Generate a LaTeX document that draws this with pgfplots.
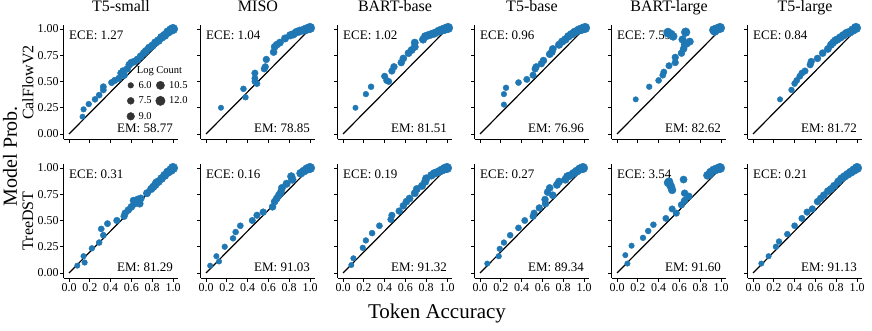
\documentclass[border=0pt]{standalone}
\usepackage{pgfplots}
\pgfplotsset{compat=1.18}
\usepackage{pgfplotstable}
\usepackage{fontspec}
\setmainfont{Liberation Serif}
\definecolor{c0}{HTML}{1F77B4}

\pgfplotstableread{
x y lc
0.13 0.165 5.8
0.14 0.235 6.0
0.19 0.285 6.2
0.25 0.33 6.4
0.29 0.37 6.6
0.33 0.42 6.8
0.33 0.45 6.8
0.41 0.49 7.0
0.44 0.51 7.2
0.48 0.53 7.4
0.50 0.58 7.6
0.52 0.60 7.7
0.53 0.56 7.7
0.56 0.62 7.8
0.58 0.66 8.0
0.60 0.68 8.0
0.63 0.69 8.2
0.66 0.71 8.3
0.69 0.74 8.4
0.72 0.77 8.6
0.74 0.79 8.7
0.77 0.82 8.9
0.80 0.84 9.0
0.83 0.87 9.2
0.86 0.89 9.5
0.89 0.92 9.8
0.92 0.94 10.2
0.95 0.97 10.8
0.98 0.99 11.4
1.00 1.00 12.0
}\tAa
\pgfplotstableread{
x y lc
0.144 0.25 5.8
0.36 0.43 6.4
0.38 0.35 6.2
0.47 0.53 6.8
0.47 0.58 7.0
0.47 0.50 6.7
0.49 0.48 6.7
0.57 0.64 7.2
0.58 0.71 7.4
0.56 0.62 7.1
0.65 0.78 7.8
0.66 0.83 8.0
0.68 0.85 8.1
0.71 0.87 8.2
0.76 0.91 8.5
0.81 0.94 8.8
0.84 0.95 9.0
0.87 0.97 9.3
0.90 0.98 9.7
0.94 0.99 10.2
0.97 1.00 11.0
1.00 1.01 12.0
}\tAb
\pgfplotstableread{
x y lc
0.12 0.25 5.8
0.22 0.38 6.1
0.27 0.45 6.4
0.40 0.55 7.0
0.42 0.51 7.0
0.44 0.50 6.8
0.47 0.60 7.3
0.49 0.64 7.5
0.56 0.68 7.7
0.58 0.72 7.9
0.63 0.77 8.1
0.66 0.80 8.2
0.69 0.83 8.3
0.69 0.87 8.3
0.77 0.90 8.6
0.79 0.93 8.8
0.82 0.94 9.0
0.85 0.95 9.2
0.88 0.96 9.5
0.92 0.98 9.9
0.95 0.99 10.5
0.98 1.00 11.2
1.01 1.01 12.0
}\tAc
\pgfplotstableread{
x y lc
0.23 0.28 5.9
0.23 0.38 6.0
0.25 0.44 6.2
0.37 0.49 6.5
0.45 0.52 6.9
0.51 0.56 7.1
0.53 0.62 7.3
0.54 0.64 7.3
0.59 0.67 7.5
0.61 0.70 7.7
0.67 0.76 7.9
0.69 0.78 8.1
0.70 0.81 8.1
0.76 0.85 8.5
0.79 0.88 8.7
0.82 0.90 8.9
0.85 0.93 9.2
0.88 0.95 9.4
0.91 0.97 9.8
0.95 0.99 10.4
0.98 1.00 11.2
1.01 1.01 12.0
}\tAd
\pgfplotstableread{
x y lc
0.18 0.33 5.8
0.31 0.45 6.1
0.40 0.51 6.5
0.44 0.56 6.7
0.45 0.59 6.8
0.50 0.65 7.0
0.56 0.68 7.2
0.56 0.73 7.3
0.62 0.77 7.6
0.64 0.81 7.8
0.65 0.85 8.0
0.67 0.86 8.1
0.70 0.88 8.2
0.63 0.90 8.6
0.49 0.96 9.8
0.52 0.95 9.8
0.54 0.93 9.4
0.49 0.97 9.6
0.66 0.97 10.4
0.93 0.99 10.5
0.94 0.98 10.5
0.96 1.00 11.0
0.99 1.01 12.0
}\tAe
\pgfplotstableread{
x y lc
0.26 0.33 5.8
0.37 0.42 6.2
0.40 0.48 6.4
0.42 0.51 6.6
0.45 0.55 6.8
0.47 0.58 6.9
0.50 0.60 7.0
0.55 0.66 7.3
0.56 0.69 7.4
0.62 0.72 7.6
0.67 0.77 7.8
0.72 0.81 8.1
0.75 0.85 8.3
0.77 0.87 8.4
0.79 0.89 8.6
0.81 0.90 8.8
0.84 0.92 9.0
0.87 0.94 9.3
0.90 0.96 9.7
0.93 0.97 10.1
0.96 0.99 10.8
0.99 1.01 12.0
}\tAf
\pgfplotstableread{
x y lc
0.08 0.07 5.8
0.14 0.16 6.0
0.15 0.10 6.0
0.22 0.235 6.2
0.29 0.29 6.4
0.31 0.42 6.6
0.33 0.36 6.6
0.37 0.47 6.8
0.46 0.50 7.2
0.53 0.54 7.4
0.54 0.57 7.5
0.57 0.60 7.6
0.60 0.63 7.8
0.62 0.69 7.8
0.63 0.66 7.9
0.66 0.70 8.0
0.68 0.66 8.0
0.69 0.71 8.2
0.75 0.76 8.4
0.79 0.80 8.6
0.81 0.82 8.8
0.83 0.84 9.0
0.84 0.86 9.1
0.86 0.87 9.2
0.89 0.90 9.5
0.92 0.93 9.9
0.95 0.96 10.5
0.98 0.98 11.2
1.00 1.00 12.0
}\tBa
\pgfplotstableread{
x y lc
0.04 0.07 5.8
0.10 0.16 5.9
0.125 0.11 5.9
0.18 0.25 6.1
0.26 0.33 6.3
0.285 0.39 6.4
0.33 0.45 6.6
0.445 0.50 7.0
0.49 0.55 7.2
0.55 0.58 7.4
0.64 0.63 7.7
0.66 0.68 7.8
0.68 0.71 8.0
0.70 0.74 8.1
0.72 0.77 8.2
0.73 0.81 8.3
0.775 0.85 8.5
0.82 0.92 8.8
0.83 0.89 8.8
0.91 0.95 9.5
0.94 0.97 10.0
0.97 0.99 10.8
1.00 1.00 12.0
}\tBb
\pgfplotstableread{
x y lc
0.08 0.076 5.8
0.10 0.14 5.9
0.19 0.24 6.1
0.22 0.31 6.2
0.28 0.38 6.4
0.35 0.45 6.6
0.46 0.51 7.0
0.47 0.55 7.1
0.54 0.59 7.4
0.58 0.64 7.6
0.61 0.68 7.8
0.64 0.71 8.0
0.69 0.76 8.2
0.71 0.80 8.3
0.76 0.83 8.5
0.79 0.87 8.7
0.80 0.90 8.8
0.85 0.93 9.1
0.88 0.95 9.4
0.92 0.965 9.8
0.95 0.98 10.3
0.98 0.995 11.0
1.00 1.00 12.0
}\tBc
\pgfplotstableread{
x y lc
0.07 0.09 5.8
0.18 0.16 6.0
0.19 0.23 6.1
0.23 0.29 6.2
0.29 0.36 6.4
0.37 0.43 6.6
0.43 0.50 6.8
0.51 0.54 7.1
0.52 0.57 7.2
0.57 0.62 7.4
0.625 0.70 7.6
0.63 0.66 7.6
0.65 0.77 7.8
0.67 0.81 7.9
0.70 0.74 8.0
0.74 0.84 8.3
0.76 0.87 8.4
0.82 0.89 8.7
0.84 0.92 8.9
0.87 0.93 9.2
0.90 0.95 9.5
0.93 0.97 10.0
0.96 0.99 10.6
0.99 1.00 12.0
}\tBd
\pgfplotstableread{
x y lc
0.08 0.17 5.8
0.10 0.09 5.8
0.14 0.26 5.9
0.25 0.335 6.2
0.30 0.40 6.3
0.35 0.46 6.4
0.47 0.52 6.8
0.53 0.61 7.0
0.57 0.57 7.1
0.62 0.65 7.4
0.65 0.69 7.6
0.65 0.76 7.6
0.69 0.73 7.8
0.64 0.89 8.0
0.49 0.86 9.0
0.50 0.87 9.2
0.51 0.84 9.2
0.52 0.82 9.0
0.53 0.79 8.8
0.87 0.93 9.4
0.89 0.94 9.6
0.90 0.96 9.8
0.93 0.98 10.2
0.96 0.99 10.8
0.99 1.00 12.0
}\tBe
\pgfplotstableread{
x y lc
0.08 0.09 5.8
0.15 0.16 5.9
0.22 0.25 6.1
0.25 0.30 6.2
0.33 0.37 6.4
0.40 0.45 6.6
0.47 0.52 6.9
0.52 0.58 7.1
0.57 0.61 7.3
0.62 0.68 7.5
0.65 0.71 7.7
0.68 0.74 7.9
0.72 0.78 8.1
0.75 0.80 8.3
0.78 0.83 8.5
0.82 0.87 8.8
0.85 0.90 9.0
0.88 0.92 9.3
0.91 0.94 9.7
0.94 0.96 10.2
0.97 0.98 10.8
1.00 1.00 12.0
}\tBf

\pgfplotsset{
  panel/.style={
    scale only axis, width=114.4pt, height=114.45pt,
    xmin=-0.05, xmax=1.05, ymin=-0.05, ymax=1.04,
    axis x line*=bottom, axis y line*=left,
    axis line style={line width=0.8pt, black},
    xtick={0,0.2,0.4,0.6,0.8,1}, ytick={0,0.25,0.5,0.75,1},
    tick align=outside, major tick length=3.5pt,
    every tick/.style={black, line width=0.8pt},
    xticklabels={}, yticklabels={},
    ticklabel style={font=\fontsize{12}{13}\selectfont},
    yticklabel style={inner sep=1.5pt},
    xticklabel style={inner sep=2pt},
    clip=false,
    title style={font=\fontsize{16}{17}\selectfont, at={(0.5,1)}, anchor=base, yshift=7.5pt},
  },
  pts/.style={scatter, only marks, mark=*, forget plot,
    scatter/use mapped color={draw=c0, fill=c0},
    visualization depends on={sqrt(8+(\thisrow{lc}-6)*2.6)\as\ms},
    scatter/@pre marker code/.append style={/tikz/mark size=\ms}},
}

\newcommand{\panel}[8]{%
\begin{axis}[panel, at={(#1pt,#2pt)}, anchor=south west, title={#4}, #7]
\addplot[pts] table {#3};
\addplot[black, line width=1.2pt, forget plot] coordinates {(0,0) (1,1)};
\node[anchor=west, font=\fontsize{13}{14}\selectfont, inner sep=0pt] at (axis cs:0,0.94) {ECE: #5};
\node[anchor=east, font=\fontsize{13}{14}\selectfont, inner sep=0pt] at (axis cs:1,0.054) {EM: #6};
#8
\end{axis}}

\begin{document}
\begin{tikzpicture}[x=1pt,y=1pt]
\useasboundingbox (0,0) rectangle (872,330);
\panel{63.8}{190.75}{\tAa}{T5-small}{1.27}{58.77}{yticklabels={0.00,0.25,0.50,0.75,1.00},
  legend columns=2, legend cell align=left,
  legend image code/.code={\draw[mark repeat=2, mark phase=2, #1] plot coordinates {(0pt,0pt) (5.5pt,0pt) (11pt,0pt)};},
  legend style={at={(axis cs:0.555,0.515)}, anchor=north west, draw=none, fill=none,
    font=\fontsize{10.5}{11}\selectfont, column sep=3pt, row sep=5pt, inner sep=0pt,
    nodes={inner sep=1pt}}}{%
  \addlegendimage{only marks, mark=*, mark size=2.83pt, black!80}\addlegendentry{6.0}
  \addlegendimage{only marks, mark=*, mark size=4.13pt, black!80}\addlegendentry{10.5}
  \addlegendimage{only marks, mark=*, mark size=3.46pt, black!80}\addlegendentry{7.5}
  \addlegendimage{only marks, mark=*, mark size=4.71pt, black!80}\addlegendentry{12.0}
  \addlegendimage{only marks, mark=*, mark size=3.83pt, black!80}\addlegendentry{9.0}
  \node[font=\fontsize{10.5}{11}\selectfont] at (axis cs:0.87,0.60) {Log Count};
}
\panel{200.8}{190.75}{\tAb}{MISO}{1.04}{78.85}{}{}
\panel{337.8}{190.75}{\tAc}{BART-base}{1.02}{81.51}{}{}
\panel{474.8}{190.75}{\tAd}{T5-base}{0.96}{76.96}{}{}
\panel{611.8}{190.75}{\tAe}{BART-large}{7.59}{82.62}{}{}
\panel{747.8}{190.75}{\tAf}{T5-large}{0.84}{81.72}{}{}
\panel{63.8}{51.75}{\tBa}{}{0.31}{81.29}{yticklabels={0.00,0.25,0.50,0.75,1.00},xticklabels={0.0,0.2,0.4,0.6,0.8,1.0}}{}
\panel{200.8}{51.75}{\tBb}{}{0.16}{91.03}{xticklabels={0.0,0.2,0.4,0.6,0.8,1.0}}{}
\panel{337.8}{51.75}{\tBc}{}{0.19}{91.32}{xticklabels={0.0,0.2,0.4,0.6,0.8,1.0}}{}
\panel{474.8}{51.75}{\tBd}{}{0.27}{89.34}{xticklabels={0.0,0.2,0.4,0.6,0.8,1.0}}{}
\panel{611.8}{51.75}{\tBe}{}{3.54}{91.60}{xticklabels={0.0,0.2,0.4,0.6,0.8,1.0}}{}
\panel{747.8}{51.75}{\tBf}{}{0.21}{91.13}{xticklabels={0.0,0.2,0.4,0.6,0.8,1.0}}{}
\node[rotate=90, font=\fontsize{16}{17}\selectfont] at (28,247.5) {CalFlowV2};
\node[rotate=90, font=\fontsize{16}{17}\selectfont] at (28,109) {TreeDST};
\node[rotate=90, font=\fontsize{20}{22}\selectfont] at (10,174) {Model Prob.};
\node[font=\fontsize{21}{23}\selectfont] at (437,17) {Token Accuracy};
\end{tikzpicture}
\end{document}
